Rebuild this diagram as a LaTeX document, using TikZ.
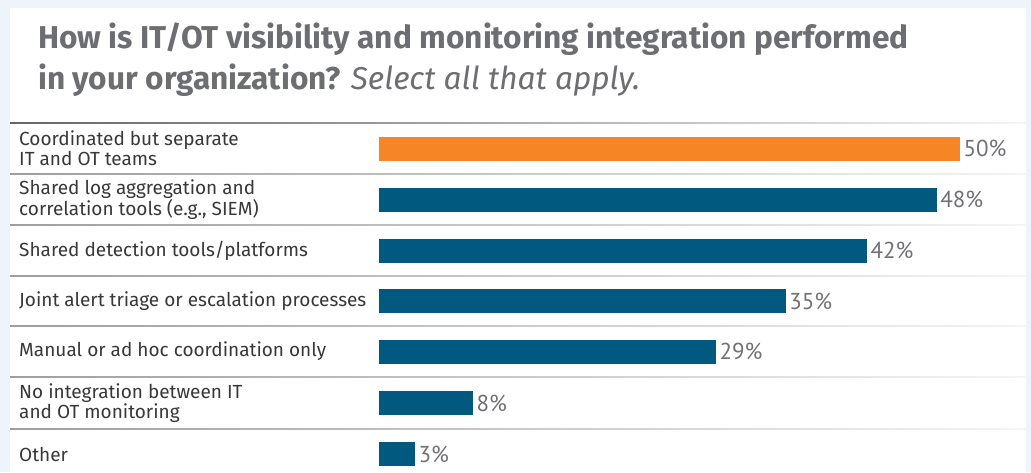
\documentclass[tikz,border=0pt]{standalone}
\usepackage{fontspec}
\setmainfont{Fira Sans}
\newfontfamily\pctfont{PT Sans}
\definecolor{bgblue}{HTML}{EEF4FB}
\definecolor{titlegray}{HTML}{6D6E71}
\definecolor{labelgray}{HTML}{383838}
\definecolor{pctgray}{HTML}{707174}
\definecolor{barorange}{HTML}{F58525}
\definecolor{barblue}{HTML}{01597F}
\tikzset{
  lbl/.style={anchor=west, inner sep=0pt, align=left, text=labelgray,
    font=\fontsize{19}{20}\selectfont},
  barbox/.style={anchor=west, inner sep=0pt, minimum height=24pt, fill=barblue},
  pct/.style={anchor=west, inner sep=0pt, xshift=3pt, text=pctgray,
    font=\pctfont\fontsize{23}{23}\selectfont},
  ttl/.style={anchor=base west, inner sep=0pt, text=titlegray,
    font=\fontsize{31.6}{32}\selectfont\bfseries},
}
\begin{document}
\begin{tikzpicture}[x=1pt,y=-1pt]
\useasboundingbox (0,0) rectangle (1031,472);
\fill[bgblue] (0,0) rectangle (1031,472);
\fill[white] (10,8) rectangle (1026,472);
% title
\node[ttl] (title1) at (38,48.5) {How is IT/OT visibility and monitoring integration performed};
\node[ttl] (title2) at (38,89.5) {in your organization? {\mdseries\itshape Select all that apply.}};
% separators
\shade[left color=black!60, right color=black!4] (10,122.5) rectangle (1026,123.7);
\foreach \y in {173.5,224.5,275.5,325.5,376.5,428.5}
  \shade[left color=black!38, right color=black!4] (10,\y) rectangle (1026,\y+1.1);
% rows
\node[lbl] (l1) at (19,148.5) {Coordinated but separate\\IT and OT teams};
\node[barbox, fill=barorange, minimum width=581pt] (b1) at (379,148.5) {};
\node[pct] (p1) at (b1.east) {50\%};

\node[lbl] (l2) at (19,199.5) {Shared log aggregation and\\correlation tools (e.g., SIEM)};
\node[barbox, minimum width=557.8pt] (b2) at (379,199.5) {};
\node[pct] (p2) at (b2.east) {48\%};

\node[lbl] (l3) at (19,250.5) {Shared detection tools/platforms};
\node[barbox, minimum width=488pt] (b3) at (379,250.5) {};
\node[pct] (p3) at (b3.east) {42\%};

\node[lbl] (l4) at (19,301) {Joint alert triage or escalation processes};
\node[barbox, minimum width=406.7pt] (b4) at (379,301) {};
\node[pct] (p4) at (b4.east) {35\%};

\node[lbl] (l5) at (19,351.5) {Manual or ad hoc coordination only};
\node[barbox, minimum width=337pt] (b5) at (379,351.5) {};
\node[pct] (p5) at (b5.east) {29\%};

\node[lbl] (l6) at (19,403) {No integration between IT\\and OT monitoring};
\node[barbox, minimum width=94pt] (b6) at (379,403) {};
\node[pct] (p6) at (b6.east) {8\%};

\node[lbl] (l7) at (19,454) {Other};
\node[barbox, minimum width=36pt] (b7) at (379,454) {};
\node[pct] (p7) at (b7.east) {3\%};
\end{tikzpicture}
\end{document}
